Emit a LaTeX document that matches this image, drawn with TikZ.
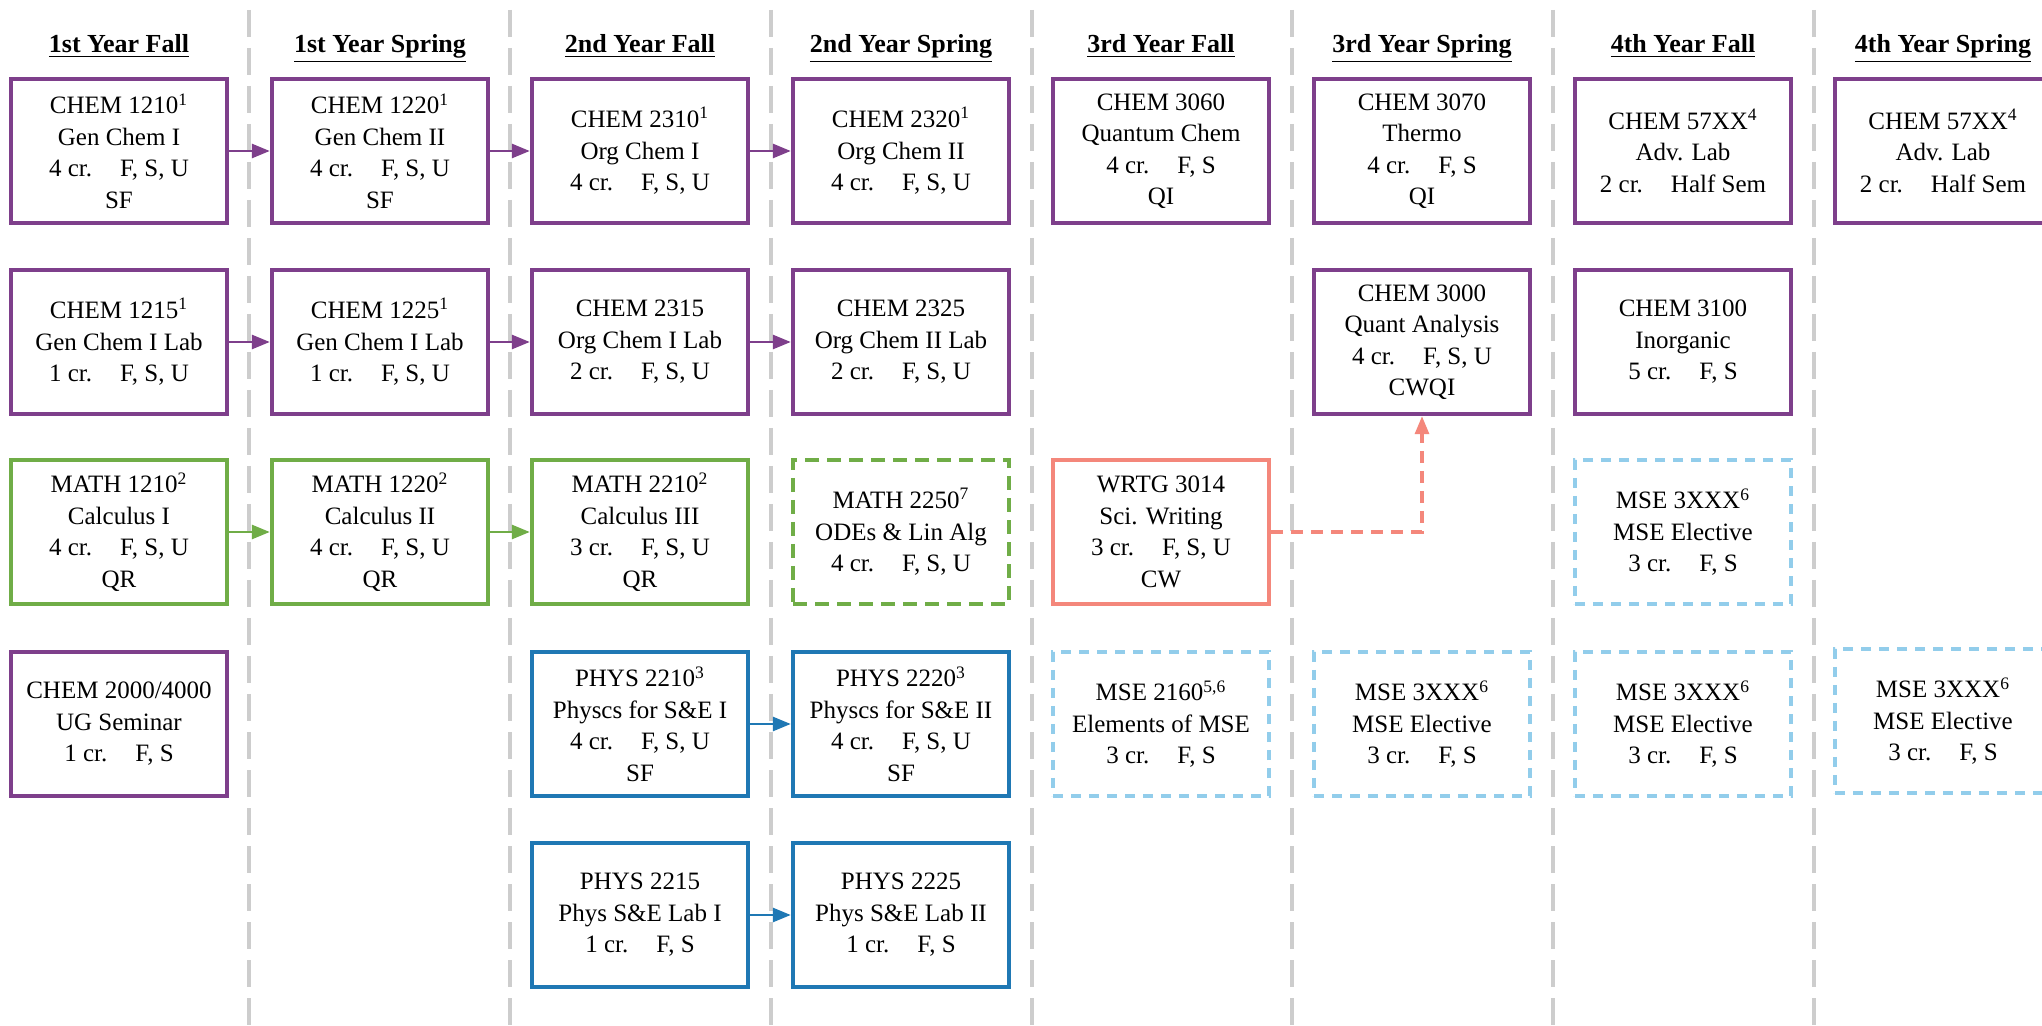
\documentclass[tikz,border=0pt]{standalone}
\usepackage{fontspec}
\setmainfont{Liberation Serif}
\usetikzlibrary{arrows.meta}
\definecolor{purp}{RGB}{126,63,139}
\definecolor{grn}{RGB}{112,173,71}
\definecolor{blu}{RGB}{31,120,180}
\definecolor{ltblu}{RGB}{146,205,235}
\definecolor{salm}{RGB}{244,135,123}
\definecolor{sepgray}{RGB}{205,205,205}
\tikzset{
  course/.style={line width=2.2pt,fill=white,minimum width=108pt,minimum height=72pt,inner sep=0pt,align=center,font=\fontsize{12.5}{15.75}\selectfont},
  chembox/.style={course,draw=purp},
  mathbox/.style={course,draw=grn},
  physbox/.style={course,draw=blu},
  wrtgbox/.style={course,draw=salm},
  optbox/.style={dash pattern=on 7pt off 4pt},
  msebox/.style={course,draw=ltblu,line width=2pt,dash pattern=on 5pt off 4pt},
  sem/.style={anchor=base,font=\fontsize{13}{15}\selectfont\bfseries},
  sep/.style={sepgray,line width=2pt,dash pattern=on 13.5pt off 5.5pt},
  prq/.style={->,line width=1.4pt}
}
\def\gap{\hspace{14pt}}
\def\s#1{\textsuperscript{#1}}
\begin{document}
\begin{tikzpicture}[x=0.5pt,y=-0.5pt,>={Triangle[length=9pt,width=7pt]}]
\useasboundingbox (0,0) rectangle (2042,1026);
\clip (0,0) rectangle (2042,1026);
\fill[white] (0,0) rectangle (2042,1026);
% semester columns
\foreach \x in {249,510,771,1032,1292,1553,1814}
  \draw[sep] (\x,10) -- (\x,1026);
\foreach \x/\t in {119/1st Year Fall,380/1st Year Spring,640/2nd Year Fall,901/2nd Year Spring,1161/3rd Year Fall,1422/3rd Year Spring,1683/4th Year Fall,1943/4th Year Spring}
  \node[sem] at (\x,53) {\underline{\t}};
% 1st year
\node[chembox] (c1210) at (119,151) {CHEM 1210\s1\\Gen Chem I\\4 cr.\gap F, S, U\\SF};
\node[chembox] (c1215) at (119,342) {CHEM 1215\s1\\Gen Chem I Lab\\1 cr.\gap F, S, U};
\node[mathbox] (m1210) at (119,532) {MATH 1210\s2\\Calculus I\\4 cr.\gap F, S, U\\QR};
\node[chembox] (c2000) at (119,724) {CHEM 2000/4000\\UG Seminar\\1 cr.\gap F, S};
\node[chembox] (c1220) at (380,151) {CHEM 1220\s1\\Gen Chem II\\4 cr.\gap F, S, U\\SF};
\node[chembox] (c1225) at (380,342) {CHEM 1225\s1\\Gen Chem I Lab\\1 cr.\gap F, S, U};
\node[mathbox] (m1220) at (380,532) {MATH 1220\s2\\Calculus II\\4 cr.\gap F, S, U\\QR};
% 2nd year
\node[chembox] (c2310) at (640,151) {CHEM 2310\s1\\Org Chem I\\4 cr.\gap F, S, U};
\node[chembox] (c2315) at (640,342) {CHEM 2315\\Org Chem I Lab\\2 cr.\gap F, S, U};
\node[mathbox] (m2210) at (640,532) {MATH 2210\s2\\Calculus III\\3 cr.\gap F, S, U\\QR};
\node[physbox] (p2210) at (640,724) {PHYS 2210\s3\\Physcs for S\&E I\\4 cr.\gap F, S, U\\SF};
\node[physbox] (p2215) at (640,915) {PHYS 2215\\Phys S\&E Lab I\\1 cr.\gap F, S};
\node[chembox] (c2320) at (901,151) {CHEM 2320\s1\\Org Chem II\\4 cr.\gap F, S, U};
\node[chembox] (c2325) at (901,342) {CHEM 2325\\Org Chem II Lab\\2 cr.\gap F, S, U};
\node[mathbox,optbox] (m2250) at (901,532) {MATH 2250\s7\\ODEs \& Lin Alg\\4 cr.\gap F, S, U};
\node[physbox] (p2220) at (901,724) {PHYS 2220\s3\\Physcs for S\&E II\\4 cr.\gap F, S, U\\SF};
\node[physbox] (p2225) at (901,915) {PHYS 2225\\Phys S\&E Lab II\\1 cr.\gap F, S};
% 3rd year
\node[chembox] (c3060) at (1161,151) {CHEM 3060\\Quantum Chem\\4 cr.\gap F, S\\QI};
\node[wrtgbox] (w3014) at (1161,532) {WRTG 3014\\Sci. Writing\\3 cr.\gap F, S, U\\CW};
\node[msebox] (e2160) at (1161,724) {MSE 2160\s{5,6}\\Elements of MSE\\3 cr.\gap F, S};
\node[chembox] (c3070) at (1422,151) {CHEM 3070\\Thermo\\4 cr.\gap F, S\\QI};
\node[chembox] (c3000) at (1422,342) {CHEM 3000\\Quant Analysis\\4 cr.\gap F, S, U\\CWQI};
\node[msebox] (e3a) at (1422,724) {MSE 3XXX\s6\\MSE Elective\\3 cr.\gap F, S};
% 4th year
\node[chembox] (c57a) at (1683,151) {CHEM 57XX\s4\\Adv. Lab\\2 cr.\gap Half Sem};
\node[chembox] (c3100) at (1683,342) {CHEM 3100\\Inorganic\\5 cr.\gap F, S};
\node[msebox] (e3b) at (1683,532) {MSE 3XXX\s6\\MSE Elective\\3 cr.\gap F, S};
\node[msebox] (e3c) at (1683,724) {MSE 3XXX\s6\\MSE Elective\\3 cr.\gap F, S};
\node[chembox] (c57b) at (1943,151) {CHEM 57XX\s4\\Adv. Lab\\2 cr.\gap Half Sem};
\node[msebox] (e3d) at (1943,721) {MSE 3XXX\s6\\MSE Elective\\3 cr.\gap F, S};
% prerequisites
\draw[prq,purp] (c1210) -- (c1220);
\draw[prq,purp] (c1220) -- (c2310);
\draw[prq,purp] (c2310) -- (c2320);
\draw[prq,purp] (c1215) -- (c1225);
\draw[prq,purp] (c1225) -- (c2315);
\draw[prq,purp] (c2315) -- (c2325);
\draw[prq,grn] (m1210) -- (m1220);
\draw[prq,grn] (m1220) -- (m2210);
\draw[prq,blu] (p2210) -- (p2220);
\draw[prq,blu] (p2215) -- (p2225);
\draw[prq,salm,line width=1.6pt,dash pattern=on 6pt off 4pt] (w3014.east) -| (c3000.south);
\end{tikzpicture}
\end{document}
